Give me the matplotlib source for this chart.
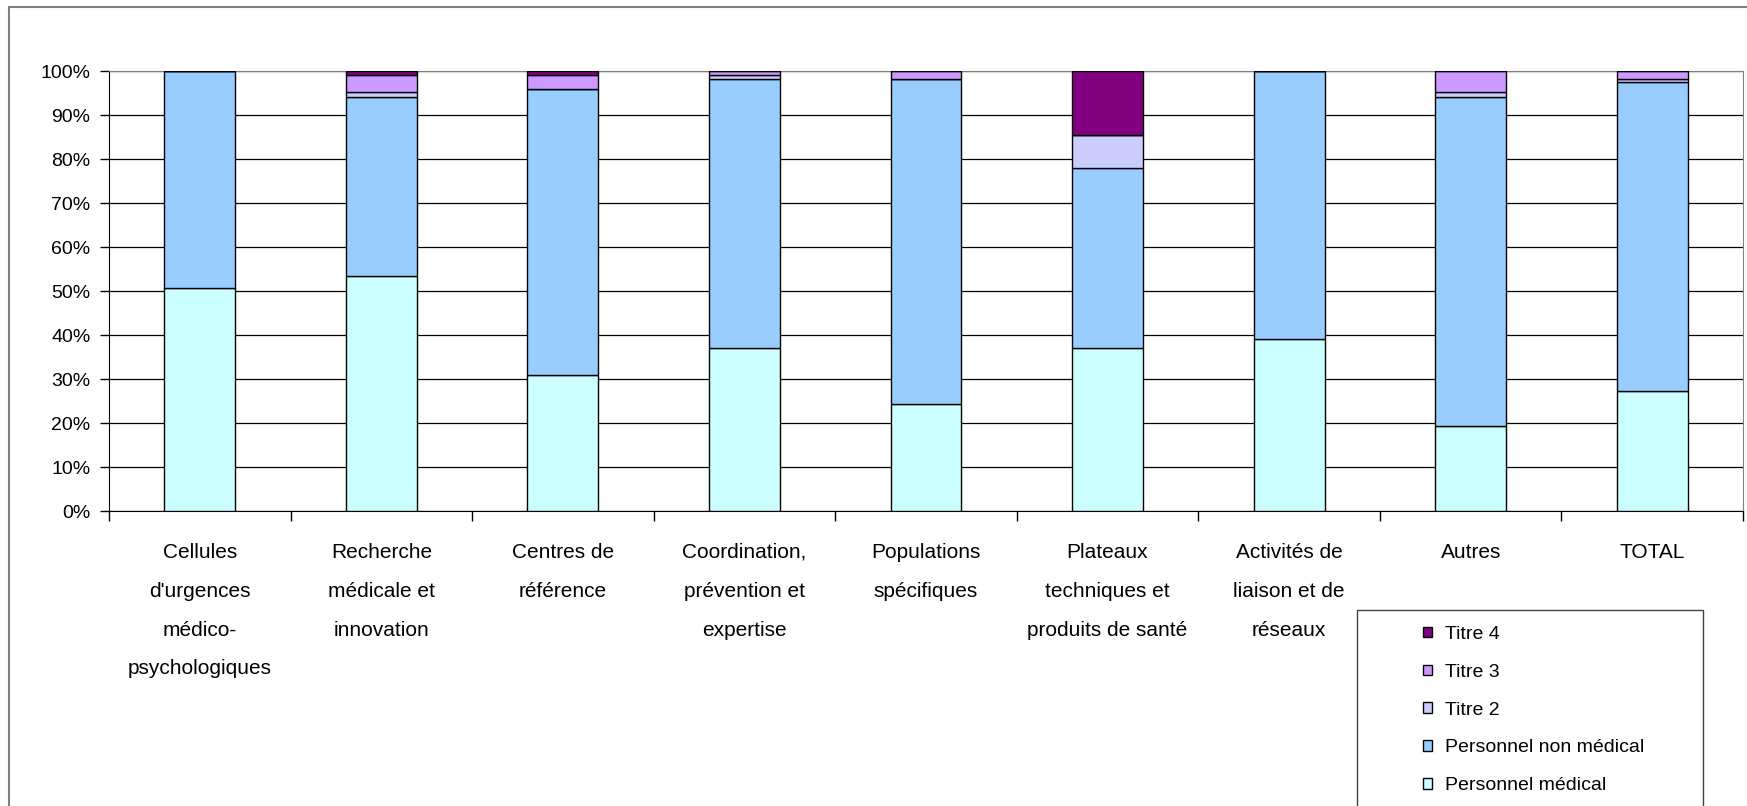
import matplotlib
matplotlib.use("Agg")
import matplotlib.pyplot as plt
import matplotlib.ticker as mticker
from matplotlib.patches import Rectangle

categories = [
    "Cellules\nd'urgences\nmédico-\npsychologiques",
    "Recherche\nmédicale et\ninnovation",
    "Centres de\nréférence",
    "Coordination,\nprévention et\nexpertise",
    "Populations\nspécifiques",
    "Plateaux\ntechniques et\nproduits de santé",
    "Activités de\nliaison et de\nréseaux",
    "Autres",
    "TOTAL",
]

perso_medical = [50.6, 53.5, 31.0, 37.0, 24.3, 37.0, 39.1, 19.3, 27.2]
perso_non_medical = [49.4, 40.7, 65.0, 61.2, 73.9, 41.0, 60.9, 74.9, 70.2]
titre2 = [0.0, 1.0, 0.0, 0.8, 0.0, 7.5, 0.0, 1.0, 0.8]
titre3 = [0.0, 3.8, 3.0, 1.0, 1.8, 0.0, 0.0, 4.8, 1.8]
titre4 = [0.0, 1.0, 1.0, 0.0, 0.0, 14.5, 0.0, 0.0, 0.0]

series = [
    ("Personnel médical", perso_medical, "#ccffff"),
    ("Personnel non médical", perso_non_medical, "#99ccff"),
    ("Titre 2", titre2, "#ccccff"),
    ("Titre 3", titre3, "#cc99ff"),
    ("Titre 4", titre4, "#800080"),
]

plt.rcParams["font.family"] = ["Liberation Sans", "DejaVu Sans"]

W, H = 1747, 806
fig = plt.figure(figsize=(W / 100, H / 100), dpi=100)
ax = fig.add_axes([109 / W, 1 - 511 / H, 1634 / W, 440 / H])

xs = list(range(len(categories)))
bottom = [0.0] * len(categories)
handles = []
for label, vals, color in series:
    bars = ax.bar(xs, vals, bottom=bottom, width=0.39, color=color,
                  edgecolor="black", linewidth=1.0, label=label, zorder=3)
    handles.append(bars)
    bottom = [b + v for b, v in zip(bottom, vals)]

ax.set_xlim(-0.5, len(categories) - 0.5)
ax.set_ylim(0, 100)
ax.set_yticks(range(0, 101, 10))
ax.yaxis.set_major_formatter(mticker.FuncFormatter(lambda v, _: f"{int(v)}%"))
ax.tick_params(axis="y", labelsize=14, length=6.5, width=1, pad=7, direction="out")
ax.grid(axis="y", color="black", linewidth=0.9, zorder=0)

ax.set_xticks(xs)
ax.set_xticklabels(categories, fontsize=15, linespacing=2.32, va="top")
ax.tick_params(axis="x", which="major", length=0, pad=23)
ax.set_xticks([i + 0.5 for i in range(-1, len(categories))], minor=True)
ax.tick_params(axis="x", which="minor", length=7, width=1, direction="out")

for side in ("left", "bottom"):
    ax.spines[side].set_color("black")
for side in ("top", "right"):
    ax.spines[side].set_color("#808080")

# outer chart border
fig.patches.append(Rectangle((9 / W, -0.05), 1.2, 1 - 7 / H + 0.05,
                             transform=fig.transFigure, fill=False,
                             edgecolor="#808080", linewidth=1.5))
# legend box (runs off the bottom edge like the original)
fig.patches.append(Rectangle((1357 / W, -0.05), 346 / W, 1 - 610 / H + 0.05,
                             transform=fig.transFigure, fill=False,
                             edgecolor="#404040", linewidth=1.0))

leg = fig.legend(handles[::-1], [s[0] for s in series][::-1],
                 loc="upper left", bbox_to_anchor=(1423 / W, 1 - 626 / H),
                 fontsize=14, frameon=False,
                 handlelength=0.45, handleheight=0.45, handletextpad=0.67,
                 labelspacing=1.07, borderpad=0, borderaxespad=0)

fig.savefig("out.png", dpi=100, facecolor="white")
